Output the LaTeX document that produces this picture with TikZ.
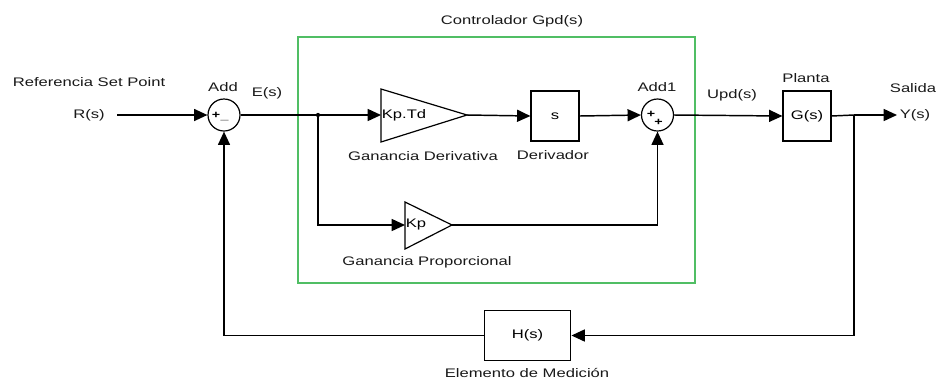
\documentclass[tikz,border=0pt]{standalone}
\usepackage{fontspec}
\setmainfont[FakeStretch=1.34]{Liberation Sans}
\usetikzlibrary{arrows.meta,shapes.geometric}
\definecolor{ctrlgreen}{RGB}{80,190,100}
\definecolor{lbl}{RGB}{25,25,25}
\begin{document}
\begin{tikzpicture}[x=0.75pt,y=-0.75pt,
  sig/.style={line width=1.1pt,-{Triangle[length=10pt,width=9pt]}},
  wire/.style={line width=1.1pt},
  blockbox/.style={draw,line width=0.9pt,minimum width=36pt,minimum height=37.5pt,inner sep=0pt,font=\fontsize{9.3}{10}\selectfont},
  sumnode/.style={draw,circle,line width=0.9pt,minimum size=24pt,inner sep=0pt},
  txt/.style={font=\fontsize{9.3}{10}\selectfont,text=lbl,inner sep=0pt},
  sgn/.style={font=\fontsize{8}{8}\bfseries\selectfont,inner sep=0pt}]
\useasboundingbox (0,0) rectangle (941,383);
% controller frame
\draw[ctrlgreen,line width=1.1pt] (298,37) rectangle (695,283);
\node[txt] (ctitle) at (512,21) {Controlador Gpd(s)};
% nodes
\coordinate (rin) at (117,115);
\node[txt] (rlab) at (89,115) {R(s)};
\node[txt] (reftxt) at (89,82) {Referencia Set Point};
\node[sumnode] (add) at (224,115) {};
\node[txt] (addlab) at (223,87) {Add};
\node[sgn] at (216,115) {+};
\node[sgn] at (224.5,120.5) {\_};
\node[txt] (elab) at (267,93) {E(s)};
\coordinate (br1) at (318,115);
\fill (br1) circle (1.6pt);
% Kp.Td gain
\draw[line width=0.9pt] (381,89) -- (467,115) -- (381,142) -- cycle;
\coordinate (kdin) at (381,115);
\coordinate (kdout) at (467,115);
\node[txt,text=black] (kdlab) at (404,115) {Kp.Td};
\node[txt] (kdname) at (423,156) {Ganancia Derivativa};
% derivative box
\node[blockbox] (der) at (555,116) {s};
\node[txt] (dername) at (553,155) {Derivador};
% Add1
\node[sumnode] (add1) at (657.5,115) {};
\node[txt] (add1lab) at (657,87) {Add1};
\node[sgn] at (651,114) {+};
\node[sgn] at (658.5,122) {+};
% Kp gain
\draw[line width=0.9pt] (405,202) -- (452,225) -- (405,249) -- cycle;
\coordinate (kpin) at (405,225);
\coordinate (kpout) at (452,225);
\node[txt,text=black] (kplab) at (416,225) {Kp};
\node[txt] (kpname) at (427,262) {Ganancia Proporcional};
% plant
\node[txt] (upd) at (732,95) {Upd(s)};
\node[blockbox] (plant) at (807,116) {G(s)};
\node[txt] (plantlab) at (806,78) {Planta};
\coordinate (br2) at (854,115);
\coordinate (yout) at (897,115);
\node[txt] (ylab) at (915,115) {Y(s)};
\node[txt] (salida) at (913,88) {Salida};
% feedback
\node[blockbox,minimum width=65pt] (hbox) at (527.5,335.5) {H(s)};
\node[txt] (hname) at (527,373) {Elemento de Medición};
% connections
\draw[sig] (rin) -- (add.west);
\draw[wire] (add.east) -- (br1);
\draw[sig] (br1) -- (kdin);
\draw[sig] (kdout) -- (der.west);
\draw[sig] (der.east) -- (add1.west);
\draw[sig] (br1) |- (kpin);
\draw[sig] (kpout) -| (add1.south);
\draw[sig] (add1.east) -- (plant.west);
\draw[wire] (plant.east) -- (br2);
\draw[sig] (br2) -- (yout);
\draw[sig] (br2) |- (hbox.east);
\draw[sig] (hbox.west) -| (add.south);
\end{tikzpicture}
\end{document}
